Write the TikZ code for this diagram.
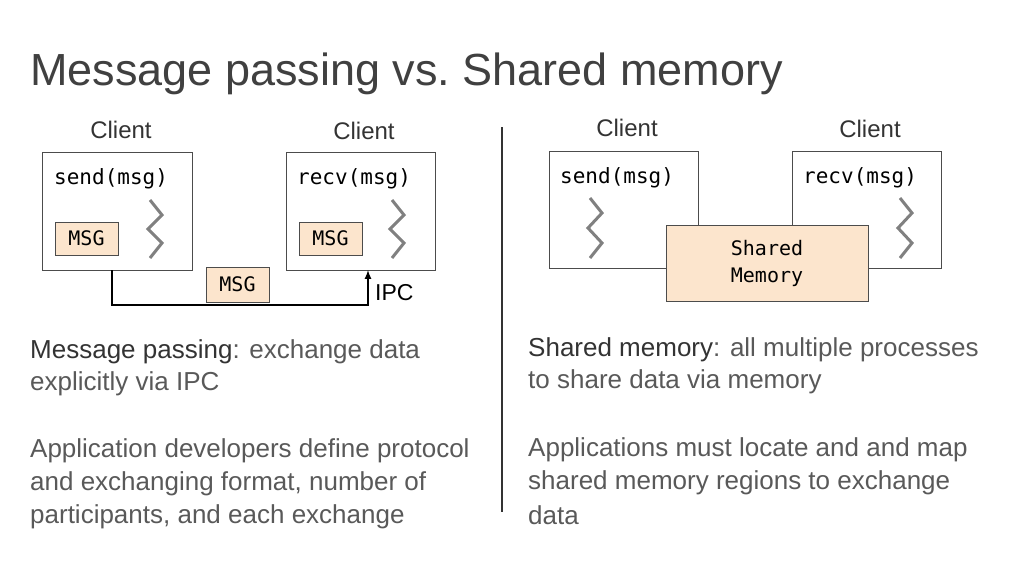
\documentclass[tikz,border=0pt]{standalone}
\usepackage{fontspec}
\setmainfont{Liberation Sans}
\newfontfamily\mono{DejaVu Sans Mono}
\definecolor{msgfill}{RGB}{252,229,205}
\begin{document}
\begin{tikzpicture}[x=1pt,y=-1pt,
  client/.style={draw=black!70,line width=0.8pt,fill=white},
  msg/.style={draw=black!70,line width=0.8pt,fill=msgfill},
  code/.style={anchor=west,font=\mono\fontsize{21}{24}\selectfont,inner sep=0},
  lbl/.style={font=\fontsize{24}{28}\selectfont,text=black!80,inner sep=0},
  body/.style={anchor=west,font=\fontsize{26}{30}\selectfont,text=black!65,inner sep=0},
  zz/.style={draw=black!50,line width=3pt}]
\useasboundingbox (0,0) rectangle (1024,576);
\node[anchor=west,font=\fontsize{45}{52}\selectfont,text=black!75,inner sep=0] (title) at (30,74) {Message passing vs.\ Shared memory};
% left
\node[lbl] (l1) at (121,130) {Client};
\node[lbl] (l2) at (364,131) {Client};
\draw[client] (42,152) rectangle (192,270);
\draw[client] (286,152) rectangle (435,270);
\node[code] (s1) at (54,179) {send(msg)};
\node[code] (r1) at (297,179) {recv(msg)};
\node[msg,minimum width=63pt,minimum height=33pt,font=\mono\fontsize{20}{24}\selectfont] (m1) at (86.5,238.5) {MSG};
\node[msg,minimum width=63pt,minimum height=33pt,font=\mono\fontsize{20}{24}\selectfont] (m2) at (330.5,238.5) {MSG};
\node[msg,minimum width=63pt,minimum height=35pt,font=\mono\fontsize{20}{24}\selectfont] (m3) at (237.5,284.5) {MSG};
\draw[zz] (150,200)--(162,215)--(148,229)--(162,243)--(150,258);
\draw[zz] (392,200)--(404,215)--(390,229)--(404,243)--(392,258);
\coordinate (a1) at (112,270); \coordinate (a2) at (368,270);
\draw[line width=2pt,-latex] (a1) -- (112,305) -- (368,305) -- (a2);
\node[anchor=west,lbl,font=\fontsize{23}{26}\selectfont,text=black] (ipc) at (375,293) {IPC};
\node[body] (t1) at (30,352) {\textcolor{black!80}{Message passing}: exchange data};
\node[body] (t2) at (30,384) {explicitly via IPC};
\node[body] (t3) at (30,451) {Application developers define protocol};
\node[body] (t4) at (30,484) {and exchanging format, number of};
\node[body] (t5) at (30,517) {participants, and each exchange};
\draw[line width=1.2pt,black!80] (502,127) -- (502,512);
% right
\node[lbl] (r1l) at (627,128) {Client};
\node[lbl] (r2l) at (870,129) {Client};
\draw[client] (549,151) rectangle (698,268);
\draw[client] (792,151) rectangle (941,268);
\node[code] (s2) at (560,178) {send(msg)};
\node[code] (r2) at (803,178) {recv(msg)};
\draw[zz] (590,198)--(602,213)--(588,228)--(602,243)--(590,258);
\draw[zz] (900,198)--(912,213)--(898,228)--(912,243)--(900,258);
\node[msg,minimum width=202pt,minimum height=76pt,align=center,font=\mono\fontsize{20}{27}\selectfont] (sm) at (767,263) {Shared\\Memory};
\node[body] (u1) at (528,350) {\textcolor{black!80}{Shared memory}: all multiple processes};
\node[body] (u2) at (528,382) {to share data via memory};
\node[body] (u3) at (528,450) {Applications must locate and and map};
\node[body] (u4) at (528,483) {shared memory regions to exchange};
\node[body] (u5) at (528,515) {data};
\end{tikzpicture}
\end{document}
